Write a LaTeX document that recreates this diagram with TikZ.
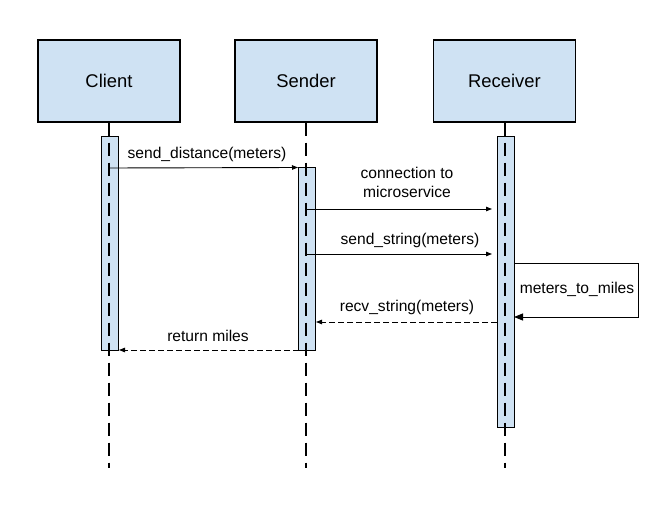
\documentclass[tikz,border=0pt]{standalone}
\usepackage{fontspec}
\setmainfont{Liberation Sans}
\usetikzlibrary{arrows.meta}
\definecolor{boxblue}{HTML}{CFE2F3}
\begin{document}
\begin{tikzpicture}[x=1pt,y=-1pt,
  actor/.style={draw=black,line width=1.3pt,fill=boxblue,minimum width=142pt,minimum height=82pt,inner sep=0pt,font=\fontsize{18.4}{22}\selectfont},
  actbar/.style={draw=black,line width=1pt,fill=boxblue,minimum width=17pt,inner sep=0pt},
  lifeline/.style={line width=2pt,dash pattern=on 13pt off 7pt},
  msg/.style={line width=0.9pt,-{Triangle[length=6pt,width=4.5pt]}},
  retmsg/.style={line width=0.9pt,dash pattern=on 6pt off 3pt,-{Triangle[length=6pt,width=4.5pt]}},
  lbl/.style={font=\fontsize{15.6}{18.5}\selectfont,inner sep=0pt,align=center}]
\useasboundingbox (0,0) rectangle (662,516);
% actors
\node[actor] (client) at (109,81) {Client};
\node[actor] (sender) at (306,81) {Sender};
\node[actor] (receiver) at (504.5,81) {Receiver};
% activation bars
\node[actbar,minimum height=213pt] (cbar) at (110,243.5) {};
\node[actbar,minimum height=182pt] (sbar) at (307,259) {};
\node[actbar,minimum height=290pt] (rbar) at (505.5,282) {};
% lifelines
\coordinate (cend) at (109,468);
\coordinate (send) at (306,468);
\coordinate (rend) at (504.5,468);
\draw[lifeline] (client.south) -- (cend);
\draw[lifeline] (sender.south) -- (send);
\draw[lifeline] (receiver.south) -- (rend);
% message endpoints
\coordinate (m1a) at (109,168);
\coordinate (m1b) at (sbar.north west);
\coordinate (m2a) at (306,209);
\coordinate (m2b) at (492,209);
\coordinate (m3a) at (306,254);
\coordinate (m3b) at (492,254);
\coordinate (s1) at (514,263);
\coordinate (s2) at (638,263);
\coordinate (s3) at (638,317);
\coordinate (s4) at (514,317);
\coordinate (m4a) at (497,322);
\coordinate (m4b) at (316,322);
\coordinate (m5a) at (298.5,350);
\coordinate (m5b) at (119,350);
% messages
\draw[msg] (m1a) -- (m1b);
\node[lbl] (l1) at (207,154.5) {send\_distance(meters)};
\draw[msg] (m2a) -- (m2b);
\node[lbl] (l2) at (407,182.5) {connection to\\microservice};
\draw[msg] (m3a) -- (m3b);
\node[lbl] (l3) at (410,240.5) {send\_string(meters)};
\draw[line width=0.9pt,-{Triangle[length=9pt,width=7pt]}] (s1) -- (s2) -- (s3) -- (s4);
\node[lbl] (l4) at (577,289) {meters\_to\_miles};
\draw[retmsg] (m4a) -- (m4b);
\node[lbl] (l5) at (407,307) {recv\_string(meters)};
\draw[retmsg] (m5a) -- (m5b);
\node[lbl] (l6) at (208,336) {return miles};
\end{tikzpicture}
\end{document}
